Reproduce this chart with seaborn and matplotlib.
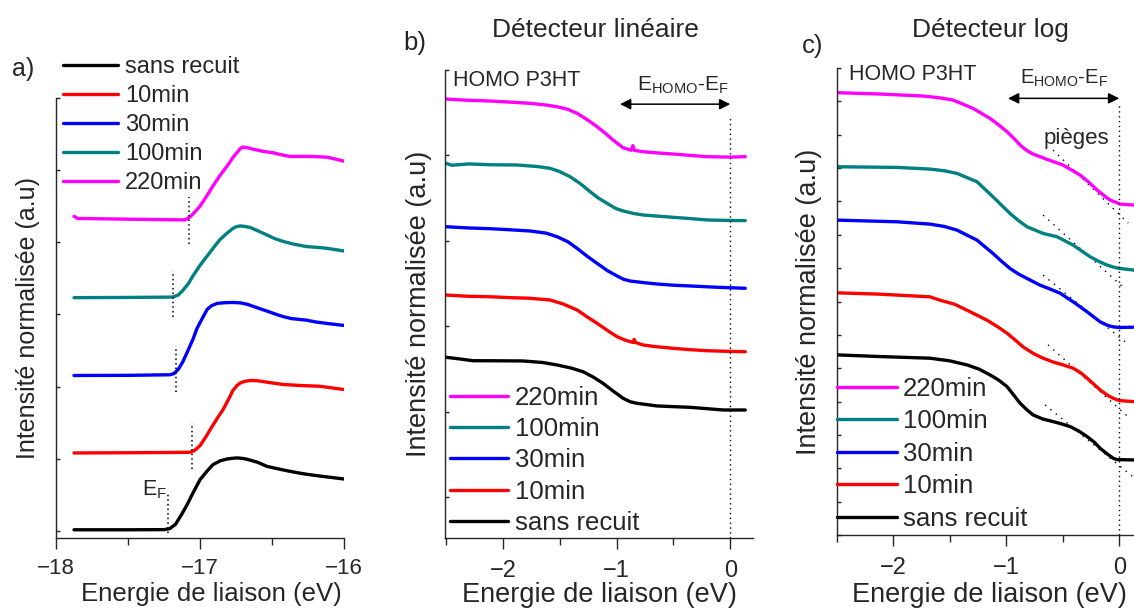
import matplotlib
matplotlib.use("Agg")
import matplotlib.pyplot as plt
import seaborn as sns

# --- données ---
labels = ["sans recuit", "10min", "30min", "100min", "220min"]
colors = ["black", "#ff0000", "#0000ff", "#008080", "#ff00ff"]

# a) spectres UPS, région du seuil (energie -18 .. -16 eV)
a_x_black = [-17.875, -17.5, -17.25, -17.21, -17.17, -17.13, -17.09, -17.05, -17.0, -16.95, -16.91, -16.86,
             -16.81, -16.77, -16.74, -16.70, -16.67, -16.6, -16.535, -16.45, -16.375, -16.28, -16.188,
             -16.09, -16.0]
a_y_black = [0.014, 0.014, 0.016, 0.03, 0.09, 0.22, 0.36, 0.52, 0.708, 0.83, 0.917, 0.97,
             0.996, 1.006, 1.01, 1.002, 0.99, 0.95, 0.893, 0.855, 0.824, 0.79, 0.764,
             0.74, 0.718]
a_x_red = [-17.875, -17.5, -17.07, -17.04, -17.0, -16.96, -16.93, -16.88, -16.84, -16.8, -16.77,
           -16.74, -16.72, -16.69, -16.65, -16.61, -16.58, -16.5, -16.42, -16.3, -16.17, -16.08, -16.0]
a_y_red = [1.079, 1.082, 1.088, 1.11, 1.18, 1.30, 1.40, 1.56, 1.68, 1.83, 1.95,
           2.02, 2.05, 2.072, 2.083, 2.082, 2.074, 2.05, 2.028, 2.014, 2.004, 1.98, 1.958]
a_x_blue = [-17.875, -17.5, -17.21, -17.18, -17.15, -17.12, -17.09, -17.05, -17.02, -16.98, -16.95,
            -16.92, -16.88, -16.82, -16.77, -16.72, -16.67, -16.6, -16.535, -16.47, -16.42, -16.36,
            -16.33, -16.26, -16.19, -16.1, -16.0]
a_y_blue = [2.153, 2.155, 2.163, 2.18, 2.24, 2.34, 2.47, 2.65, 2.81, 2.96, 3.07,
            3.12, 3.153, 3.163, 3.165, 3.16, 3.139, 3.09, 3.046, 3.0, 2.968, 2.94,
            2.935, 2.92, 2.893, 2.87, 2.847]
a_x_teal = [-17.875, -17.5, -17.19, -17.15, -17.12, -17.08, -17.05, -17.0, -16.95, -16.9, -16.86,
            -16.81, -16.77, -16.745, -16.72, -16.69, -16.65, -16.6, -16.535, -16.48, -16.42, -16.34,
            -16.26, -16.19, -16.12, -16.0]
a_y_teal = [3.232, 3.235, 3.240, 3.27, 3.33, 3.43, 3.53, 3.68, 3.81, 3.94, 4.04,
            4.13, 4.194, 4.218, 4.226, 4.22, 4.204, 4.16, 4.101, 4.05, 4.01, 3.97,
            3.94, 3.93, 3.917, 3.879]
a_x_mag = [-17.875, -17.85, -17.5, -17.104, -17.07, -17.04, -17.0, -16.96, -16.91, -16.86, -16.81,
           -16.77, -16.74, -16.72, -16.70, -16.67, -16.63, -16.56, -16.49, -16.43, -16.375, -16.3,
           -16.236, -16.118, -16.0]
a_y_mag = [4.36, 4.33, 4.32, 4.31, 4.35, 4.41, 4.50, 4.62, 4.78, 4.93, 5.06,
           5.18, 5.25, 5.30, 5.32, 5.31, 5.29, 5.26, 5.24, 5.21, 5.19, 5.19,
           5.19, 5.18, 5.125]
# positions du niveau de Fermi (traits pointillés), même ordre que labels
a_ef_x = [-17.222, -17.056, -17.167, -17.188, -17.076]
a_ef_ylo = [-0.03, 0.85, 1.92, 2.96, 3.97]
a_ef_yhi = [0.53, 1.50, 2.56, 3.60, 4.63]

# b) détecteur linéaire, HOMO P3HT
b_x_black = [-2.502, -2.4, -2.264, -2.05, -1.824, -1.65, -1.524, -1.4, -1.295, -1.2, -1.119, -1.03,
             -0.943, -0.88, -0.819, -0.643, -0.352, -0.062, 0.132]
b_y_black = [1.636, 1.62, 1.596, 1.595, 1.593, 1.575, 1.546, 1.51, 1.467, 1.40, 1.331, 1.24,
             1.156, 1.115, 1.097, 1.066, 1.050, 1.019, 1.019]
b_x_red = [-2.502, -2.3, -2.115, -1.95, -1.762, -1.586, -1.47, -1.348, -1.26, -1.172, -1.08, -0.996,
           -0.93, -0.881, -0.855, -0.846, -0.835, -0.767, -0.65, -0.502, -0.35, -0.203, 0.0, 0.132]
b_y_red = [2.365, 2.35, 2.345, 2.335, 2.327, 2.307, 2.26, 2.190, 2.11, 2.034, 1.95, 1.877,
           1.84, 1.819, 1.81, 1.845, 1.81, 1.780, 1.76, 1.741, 1.725, 1.713, 1.705, 1.701]
b_x_blue = [-2.502, -2.3, -2.115, -1.95, -1.762, -1.62, -1.524, -1.43, -1.348, -1.26, -1.172, -1.08,
            -0.996, -0.94, -0.881, -0.76, -0.643, -0.5, -0.352, -0.1, 0.132]
b_y_blue = [3.165, 3.15, 3.142, 3.13, 3.115, 3.09, 3.048, 2.99, 2.912, 2.82, 2.736, 2.65,
            2.588, 2.55, 2.529, 2.51, 2.494, 2.48, 2.471, 2.455, 2.444]
b_x_teal = [-2.502, -2.45, -2.3, -2.1, -1.877, -1.7, -1.586, -1.5, -1.410, -1.32, -1.233, -1.16,
            -1.084, -1.01, -0.943, -0.85, -0.767, -0.6, -0.502, -0.35, -0.203, 0.0, 0.132]
b_y_teal = [3.907, 3.885, 3.90, 3.89, 3.888, 3.87, 3.849, 3.81, 3.751, 3.67, 3.575, 3.50,
            3.439, 3.38, 3.349, 3.32, 3.302, 3.285, 3.275, 3.26, 3.244, 3.238, 3.236]
b_x_mag = [-2.502, -2.3, -2.115, -1.95, -1.762, -1.62, -1.524, -1.43, -1.348, -1.26, -1.172, -1.10,
           -1.031, -0.943, -0.87, -0.857, -0.845, -0.767, -0.65, -0.502, -0.35, -0.203, 0.0, 0.132]
b_y_mag = [4.660, 4.645, 4.637, 4.625, 4.610, 4.59, 4.570, 4.54, 4.493, 4.42, 4.336, 4.26,
           4.180, 4.090, 4.06, 4.115, 4.06, 4.043, 4.03, 4.016, 4.0, 3.985, 3.98, 3.985]

# c) détecteur log
c_x_black = [-2.502, -2.121, -1.677, -1.5, -1.349, -1.24, -1.145, -1.07, -0.994, -0.94, -0.878,
             -0.82, -0.763, -0.68, -0.586, -0.51, -0.435, -0.36, -0.284, -0.22, -0.169, -0.11,
             -0.053, -0.02, 0.133]
c_y_black = [5.40, 5.35, 5.30, 5.22, 5.10, 4.97, 4.80, 4.65, 4.45, 4.22, 3.95,
             3.76, 3.60, 3.48, 3.40, 3.33, 3.25, 3.12, 2.95, 2.78, 2.60, 2.44,
             2.30, 2.26, 2.25]
c_x_red = [-2.502, -2.121, -1.677, -1.588, -1.46, -1.349, -1.171, -1.08, -0.994, -0.92, -0.852,
           -0.76, -0.674, -0.58, -0.497, -0.408, -0.34, -0.284, -0.169, -0.1, -0.053, 0.0, 0.124]
c_y_red = [7.26, 7.22, 7.14, 7.04, 6.92, 6.74, 6.44, 6.25, 6.05, 5.84, 5.64,
           5.44, 5.30, 5.18, 5.10, 5.00, 4.86, 4.70, 4.35, 4.18, 4.10, 4.03, 4.00]
c_x_blue = [-2.502, -1.970, -1.677, -1.55, -1.437, -1.260, -1.118, -1.04, -0.967, -0.89, -0.816,
            -0.701, -0.61, -0.524, -0.408, -0.284, -0.169, -0.1, -0.053, 0.0, 0.124]
c_y_blue = [9.44, 9.39, 9.32, 9.25, 9.14, 8.84, 8.44, 8.20, 7.99, 7.82, 7.69,
            7.49, 7.37, 7.25, 6.99, 6.69, 6.39, 6.28, 6.24, 6.22, 6.23]
c_x_teal = [-2.502, -1.970, -1.677, -1.55, -1.437, -1.260, -1.118, -1.04, -0.967, -0.89, -0.816,
            -0.674, -0.550, -0.408, -0.257, -0.18, -0.106, -0.04, 0.009, 0.133]
c_y_teal = [11.04, 11.02, 10.97, 10.92, 10.84, 10.59, 10.14, 9.88, 9.64, 9.42, 9.24,
            9.04, 8.94, 8.69, 8.34, 8.20, 8.09, 8.02, 7.99, 7.94]
c_x_mag = [-2.502, -2.121, -1.739, -1.6, -1.473, -1.295, -1.145, -1.07, -0.994, -0.93, -0.878,
           -0.82, -0.763, -0.639, -0.497, -0.346, -0.27, -0.195, -0.13, -0.080, 0.009, 0.133]
c_y_mag = [13.26, 13.22, 13.16, 13.11, 13.04, 12.79, 12.49, 12.30, 12.09, 11.88, 11.69,
           11.53, 11.42, 11.26, 11.09, 10.79, 10.58, 10.34, 10.16, 10.04, 9.92, 9.89]
# tangentes (pièges), même ordre que labels
c_tan_x0 = [-0.657, -0.630, -0.674, -0.674, -0.586]
c_tan_x1 = [0.124, 0.080, 0.053, 0.035, 0.080]
c_tan_y0 = [3.90, 5.70, 7.79, 9.59, 11.54]
c_tan_y1 = [1.74, 3.54, 5.79, 7.43, 9.35]

a_series = [(a_x_black, a_y_black), (a_x_red, a_y_red), (a_x_blue, a_y_blue),
            (a_x_teal, a_y_teal), (a_x_mag, a_y_mag)]
b_series = [(b_x_black, b_y_black), (b_x_red, b_y_red), (b_x_blue, b_y_blue),
            (b_x_teal, b_y_teal), (b_x_mag, b_y_mag)]
c_series = [(c_x_black, c_y_black), (c_x_red, c_y_red), (c_x_blue, c_y_blue),
            (c_x_teal, c_y_teal), (c_x_mag, c_y_mag)]

# --- style ---
sns.set_style("ticks")
plt.rcParams["font.family"] = ["Liberation Sans", "DejaVu Sans"]
plt.rcParams["mathtext.default"] = "regular"
plt.rcParams["axes.linewidth"] = 1.0

W, H = 1134, 608
fig = plt.figure(figsize=(W / 100, H / 100), dpi=100)
ax_a = fig.add_axes([56 / W, 70 / H, 288 / W, 440 / H])
ax_b = fig.add_axes([445 / W, 70 / H, 308 / W, 468 / H])
ax_c = fig.add_axes([837 / W, 73 / H, 298 / W, 467 / H])


def draw_curves(ax, series):
    lines = []
    for (x, y), lab, col in zip(series, labels, colors):
        sns.lineplot(x=x, y=y, color=col, lw=2.4, ax=ax, label=lab, legend=False)
        lines.append(ax.lines[-1])
    return lines


def style_axis(ax, xlim, ylim, xmaj, xmin, yticks, lsize, pad):
    ax.set_xlim(*xlim)
    ax.set_ylim(*ylim)
    ax.set_xticks(xmaj)
    ax.set_xticks(xmin, minor=True)
    ax.set_yticks(yticks)
    ax.tick_params(axis="x", which="major", direction="out", length=8, width=1.0,
                   labelsize=lsize, pad=pad)
    ax.tick_params(axis="x", which="minor", direction="out", length=5, width=1.0)
    ax.tick_params(axis="y", direction="in", length=3, width=1.0, labelleft=False)
    sns.despine(ax=ax)


# a)
lines_a = draw_curves(ax_a, a_series)
for x, lo, hi in zip(a_ef_x, a_ef_ylo, a_ef_yhi):
    ax_a.plot([x, x], [lo, hi], color="black", lw=1.1, ls=(0, (1, 2)))
ax_a.text(-17.40, 0.57, r"E$_F$", fontsize=15.5, ha="left", va="center")
style_axis(ax_a, (-18, -16), (-0.1, 6.0), [-18, -17, -16], [-17.5, -16.5], range(0, 7), 16, 6.5)
ax_a.set_xlabel("Energie de liaison (eV)", fontsize=18.5)
ax_a.xaxis.set_label_coords(0.54, -0.1)
ax_a.set_ylabel("Intensité normalisée (a.u)", fontsize=18)
ax_a.yaxis.set_label_coords(-0.055, 0.5)
ax_a.legend(handles=lines_a, labels=labels, loc="upper left", bbox_to_anchor=(63 / W, 1 - 56 / H),
            bbox_transform=fig.transFigure, frameon=False, fontsize=17, borderpad=0,
            borderaxespad=0, handlelength=2.33, handletextpad=0.3, labelspacing=0.3)
fig.text(12 / W, 1 - 69 / H, "a)", fontsize=18, ha="left", va="center")

# b)
lines_b = draw_curves(ax_b, b_series)
ax_b.plot([0, 0], [-0.48, 4.47], color="black", lw=1.0, ls=(0, (1, 2.5)))
ax_b.annotate("", xy=(0, 4.60), xytext=(-0.97, 4.60),
              arrowprops=dict(arrowstyle="<|-|>", color="black", lw=1.1, mutation_scale=16,
                              shrinkA=0, shrinkB=0))
ax_b.text(-0.82, 4.82, r"E$_{HOMO}$-E$_F$", fontsize=15, ha="left", va="center")
ax_b.text(-2.44, 4.88, "HOMO P3HT", fontsize=15.5, ha="left", va="center")
style_axis(ax_b, (-2.51, 0.2), (-0.48, 5.0), [-2, -1, 0], [-2.5, -1.5, -0.5], range(0, 6), 17, 7.5)
ax_b.set_xlabel("Energie de liaison (eV)", fontsize=19.5)
ax_b.xaxis.set_label_coords(0.5, -0.095)
ax_b.set_ylabel("Intensité normalisée (a.u)", fontsize=19.5)
ax_b.yaxis.set_label_coords(-0.042, 0.5)
ax_b.legend(handles=lines_b[::-1], labels=labels[::-1], loc="upper left",
            bbox_to_anchor=(450 / W, 1 - 386 / H), bbox_transform=fig.transFigure, frameon=False,
            fontsize=18.5, borderpad=0, borderaxespad=0, handlelength=2.26, handletextpad=0.27,
            labelspacing=0.28)
fig.text(403 / W, 1 - 43 / H, "b)", fontsize=18.5, ha="left", va="center")
fig.text(595 / W, 1 - 30 / H, "Détecteur linéaire", fontsize=19, ha="center", va="center")

# c)
for x0, x1, y0, y1 in zip(c_tan_x0, c_tan_x1, c_tan_y0, c_tan_y1):
    ax_c.plot([x0, x1], [y0, y1], color="black", lw=1.0, ls=(0, (1, 4)))
lines_c = draw_curves(ax_c, c_series)
ax_c.plot([0, 0], [0, 12.95], color="black", lw=1.0, ls=(0, (1, 2.5)))
ax_c.annotate("", xy=(0, 13.09), xytext=(-0.985, 13.09),
              arrowprops=dict(arrowstyle="<|-|>", color="black", lw=1.1, mutation_scale=16,
                              shrinkA=0, shrinkB=0))
ax_c.text(-0.878, 13.7, r"E$_{HOMO}$-E$_F$", fontsize=14.5, ha="left", va="center")
ax_c.text(-2.39, 13.82, "HOMO P3HT", fontsize=15.5, ha="left", va="center")
ax_c.text(-0.38, 11.9, "pièges", fontsize=16, ha="center", va="center")
style_axis(ax_c, (-2.5, 0.14), (0, 14), [-2, -1, 0], [-2.5, -1.5, -0.5], range(0, 15), 17, 8)
ax_c.set_xlabel("Energie de liaison (eV)", fontsize=19.5)
ax_c.xaxis.set_label_coords(0.51, -0.1)
ax_c.set_ylabel("Intensité normalisée (a.u)", fontsize=19.5)
ax_c.yaxis.set_label_coords(-0.05, 0.5)
ax_c.legend(handles=lines_c[::-1], labels=labels[::-1], loc="upper left",
            bbox_to_anchor=(837 / W, 1 - 377 / H), bbox_transform=fig.transFigure, frameon=False,
            fontsize=18.5, borderpad=0, borderaxespad=0, handlelength=2.33, handletextpad=0.23,
            labelspacing=0.33)
fig.text(802 / W, 1 - 46 / H, "c)", fontsize=18.5, ha="left", va="center")
fig.text(990 / W, 1 - 30 / H, "Détecteur log", fontsize=19, ha="center", va="center")

fig.savefig("out.png", dpi=100)
